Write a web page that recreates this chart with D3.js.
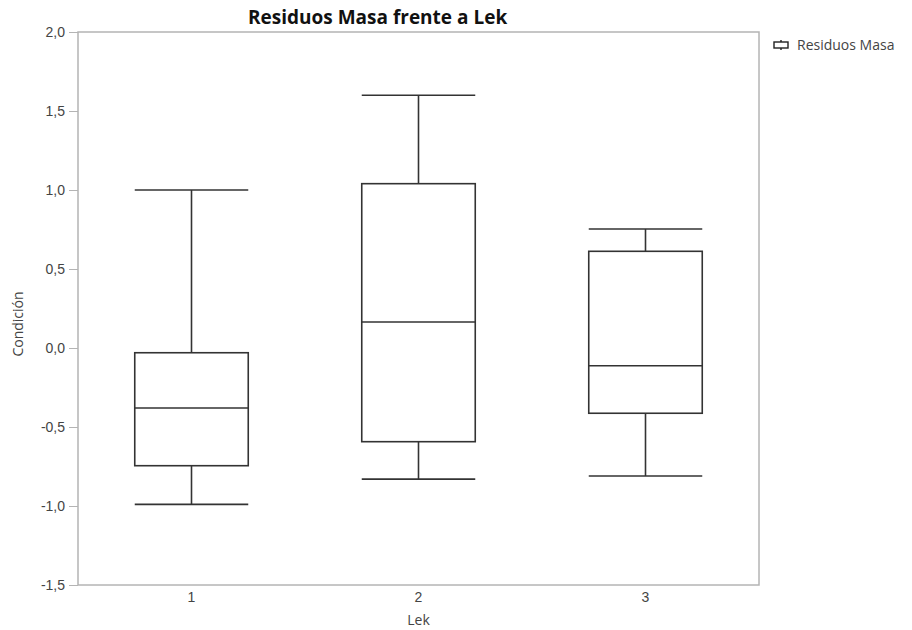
<!DOCTYPE html>
<html>
<head>
<meta charset="utf-8">
<script src="https://cdn.jsdelivr.net/npm/d3@7"></script>
<style>
    body { margin: 0; background: #fff; }
    svg { display: block; font-family: "Open Sans", "Noto Sans", sans-serif; }
</style>
</head>
<body>
<div id="chart"></div>
<script>
// values
const groups = ["1", "2", "3"];
const whiskerLow  = [-0.99, -0.83, -0.81];
const q1          = [-0.745, -0.593, -0.413];
const median      = [-0.38, 0.165, -0.112];
const q3          = [-0.03, 1.04, 0.612];
const whiskerHigh = [1.0, 1.6, 0.753];
const yTicks = [-1.5, -1.0, -0.5, 0.0, 0.5, 1.0, 1.5, 2.0];

const width = 912, height = 630;
const margin = { left: 78, right: 153, top: 32, bottom: 45 };
const plotW = width - margin.left - margin.right;
const plotH = height - margin.top - margin.bottom;

const svg = d3.select("#chart").append("svg")
    .attr("width", width)
    .attr("height", height);

const x = d3.scaleBand().domain(groups).range([0, plotW]);
const y = d3.scaleLinear().domain([-1.5, 2.0]).range([plotH, 0]);
const fmt = d => d3.format(".1f")(d).replace(".", ",").replace("−", "-");

const g = svg.append("g").attr("transform", `translate(${margin.left},${margin.top})`);

// frame
g.append("rect")
    .attr("x", 0).attr("y", 0)
    .attr("width", plotW).attr("height", plotH)
    .attr("fill", "none")
    .attr("stroke", "#b4b4b4")
    .attr("stroke-width", 1.5);

const yAxis = g.append("g")
    .call(d3.axisLeft(y).tickValues(yTicks).tickFormat(fmt).tickSize(9).tickPadding(4));
yAxis.select(".domain").remove();
yAxis.selectAll(".tick line").attr("stroke", "#b4b4b4");
yAxis.selectAll(".tick text").attr("fill", "#444").style("font-size", "14px");

const xAxis = g.append("g")
    .attr("transform", `translate(0,${plotH})`)
    .call(d3.axisBottom(x).tickSize(0).tickPadding(7));
xAxis.select(".domain").remove();
xAxis.selectAll(".tick text").attr("fill", "#444").style("font-size", "14px");

// boxes
const boxW = x.bandwidth() * 0.5;
const stroke = "#333";
groups.forEach((k, i) => {
    const cx = x(k) + x.bandwidth() / 2;
    const b = g.append("g").attr("stroke", stroke).attr("stroke-width", 1.6).attr("fill", "none");
    b.append("line").attr("x1", cx).attr("x2", cx).attr("y1", y(whiskerHigh[i])).attr("y2", y(q3[i]));
    b.append("line").attr("x1", cx).attr("x2", cx).attr("y1", y(q1[i])).attr("y2", y(whiskerLow[i]));
    b.append("line").attr("x1", cx - boxW / 2).attr("x2", cx + boxW / 2).attr("y1", y(whiskerHigh[i])).attr("y2", y(whiskerHigh[i]));
    b.append("line").attr("x1", cx - boxW / 2).attr("x2", cx + boxW / 2).attr("y1", y(whiskerLow[i])).attr("y2", y(whiskerLow[i]));
    b.append("rect")
        .attr("x", cx - boxW / 2).attr("y", y(q3[i]))
        .attr("width", boxW).attr("height", y(q1[i]) - y(q3[i]))
        .attr("fill", "#fff");
    b.append("line").attr("x1", cx - boxW / 2).attr("x2", cx + boxW / 2).attr("y1", y(median[i])).attr("y2", y(median[i]));
});

// title & axis labels
svg.append("text")
    .attr("x", 248).attr("y", 24)
    .style("font-size", "19px").style("font-weight", "bold")
    .attr("fill", "#111")
    .text("Residuos Masa frente a Lek");

svg.append("text")
    .attr("x", margin.left + plotW / 2).attr("y", 625)
    .attr("text-anchor", "middle")
    .style("font-size", "14px").attr("fill", "#444")
    .text("Lek");

svg.append("text")
    .attr("transform", "translate(23,324) rotate(-90)")
    .attr("text-anchor", "middle")
    .style("font-size", "14px").attr("fill", "#444")
    .text("Condición");

// legend
const lg = svg.append("g").attr("transform", "translate(781,45)")
    .attr("stroke", "#222").attr("stroke-width", 1.4).attr("fill", "none");
lg.append("line").attr("x1", 0).attr("x2", 0).attr("y1", -5).attr("y2", 5);
lg.append("rect").attr("x", -7).attr("y", -3).attr("width", 14).attr("height", 6).attr("fill", "#fff");
svg.append("text")
    .attr("x", 797).attr("y", 50)
    .style("font-size", "14px").attr("fill", "#444")
    .text("Residuos Masa");
</script>
</body>
</html>
